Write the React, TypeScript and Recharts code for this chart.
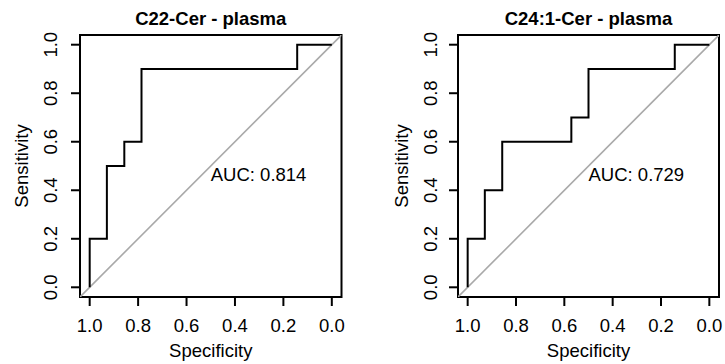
import React from 'react'
import {
	LineChart, Line, XAxis, YAxis, ReferenceArea, ReferenceDot,
} from 'recharts'

// axis ticks shared by both panels
const TICKS = [0, 0.2, 0.4, 0.6, 0.8, 1]
const TICK_LABELS = ['0.0', '0.2', '0.4', '0.6', '0.8', '1.0']

// C22-Cer ROC path (specificity, sensitivity)
const specC22 = [1, 1, 0.929, 0.929, 0.857, 0.857, 0.786, 0.786, 0.143, 0.143, 0]
const sensC22 = [0, 0.2, 0.2, 0.5, 0.5, 0.6, 0.6, 0.9, 0.9, 1, 1]

// C24:1-Cer ROC path
const specC241 = [1, 1, 0.929, 0.929, 0.857, 0.857, 0.571, 0.571, 0.5, 0.5, 0.143, 0.143, 0]
const sensC241 = [0, 0.2, 0.2, 0.4, 0.4, 0.6, 0.6, 0.7, 0.7, 0.9, 0.9, 1, 1]

// chance line spans the whole plot region
const diagSpec = [1.04, -0.04]
const diagSens = [-0.04, 1.04]

const FONT = '"Liberation Sans", Arial, Helvetica, sans-serif'
const FS = 18.5
const DOMAIN: [number, number] = [-0.04, 1.04]

const toRows = (spec: number[], sens: number[]) =>
	spec.map((s, i) => ({ spec: s, sens: sens[i] }))

const labelFor = (v: number) => TICK_LABELS[TICKS.indexOf(v)] ?? v.toFixed(1)

interface PanelProps {
	title: string
	spec: number[]
	sens: number[]
	auc: string
	width: number
	yAxisWidth: number
	rightMargin: number
	tickOffset: number
	titleOffset: number
}

function RocPanel({ title, spec, sens, auc, width, yAxisWidth, rightMargin, tickOffset, titleOffset }: PanelProps) {
	const XTick = ({ x, y, payload }: any) => (
		<text x={x} y={y + 26} textAnchor="middle" fontFamily={FONT} fontSize={FS} fill="#000">
			{labelFor(payload.value)}
		</text>
	)
	const YTick = ({ x, y, payload }: any) => {
		const bx = x - tickOffset
		return (
			<text x={bx} y={y} transform={`rotate(-90, ${bx}, ${y})`} textAnchor="middle"
				fontFamily={FONT} fontSize={FS} fill="#000">
				{labelFor(payload.value)}
			</text>
		)
	}

	return (
		<LineChart width={width} height={364} margin={{ top: 35, right: rightMargin, bottom: 0, left: 0 }}>
			<XAxis
				type="number"
				dataKey="spec"
				domain={DOMAIN}
				allowDataOverflow
				reversed
				ticks={TICKS}
				axisLine={false}
				tickLine={{ stroke: '#000', strokeWidth: 2 }}
				tickSize={9}
				tickMargin={0}
				tick={<XTick />}
				height={67}
				interval={0}
				label={({ viewBox }: any) => (
					<text x={viewBox.x + viewBox.width / 2} y={viewBox.y + 60} textAnchor="middle"
						fontFamily={FONT} fontSize={FS} fill="#000">Specificity</text>
				)}
			/>
			<YAxis
				type="number"
				dataKey="sens"
				domain={DOMAIN}
				allowDataOverflow
				ticks={TICKS}
				axisLine={false}
				tickLine={{ stroke: '#000', strokeWidth: 2 }}
				tickSize={9}
				tickMargin={0}
				tick={<YTick />}
				width={yAxisWidth}
				interval={0}
				label={({ viewBox }: any) => {
					const bx = viewBox.x + viewBox.width - titleOffset
					const cy = viewBox.y + viewBox.height / 2
					return (
						<text x={bx} y={cy} transform={`rotate(-90, ${bx}, ${cy})`} textAnchor="middle"
							fontFamily={FONT} fontSize={FS} fill="#000">Sensitivity</text>
					)
				}}
			/>
			<Line
				data={toRows(diagSpec, diagSens)}
				dataKey="sens"
				type="linear"
				stroke="#a9a9a9"
				strokeWidth={1.6}
				dot={false}
				activeDot={false}
				isAnimationActive={false}
			/>
			<Line
				data={toRows(spec, sens)}
				dataKey="sens"
				type="linear"
				stroke="#000"
				strokeWidth={2}
				dot={false}
				activeDot={false}
				isAnimationActive={false}
			/>
			<ReferenceArea
				x1={DOMAIN[0]} x2={DOMAIN[1]} y1={DOMAIN[0]} y2={DOMAIN[1]}
				fill="none" fillOpacity={0} stroke="#000" strokeWidth={2}
				label={({ viewBox }: any) => (
					<text x={viewBox.x + viewBox.width / 2} y={viewBox.y - 10.5} textAnchor="middle"
						fontFamily={FONT} fontSize={FS} fontWeight="bold" fill="#000">{title}</text>
				)}
			/>
			<ReferenceDot
				x={0.5} y={0.5} r={0} stroke="none" fill="none"
				label={({ viewBox }: any) => (
					<text x={viewBox.x} y={viewBox.y + 14.5} textAnchor="start"
						fontFamily={FONT} fontSize={FS} fill="#000">{auc}</text>
				)}
			/>
		</LineChart>
	)
}

export default function App() {
	return (
		<div style={{ position: 'absolute', left: 0, top: 0, width: 725, height: 364, background: '#fff' }}>
			<div style={{ position: 'absolute', left: 0, top: 0 }}>
				<RocPanel title="C22-Cer - plasma" spec={specC22} sens={sensC22} auc="AUC: 0.814"
					width={362} yAxisWidth={80} rightMargin={20.5} tickOffset={14} titleOffset={52.5} />
			</div>
			<div style={{ position: 'absolute', left: 362, top: 0 }}>
				<RocPanel title="C24:1-Cer - plasma" spec={specC241} sens={sensC241} auc="AUC: 0.729"
					width={363} yAxisWidth={96} rightMargin={6} tickOffset={12} titleOffset={50.5} />
			</div>
		</div>
	)
}
